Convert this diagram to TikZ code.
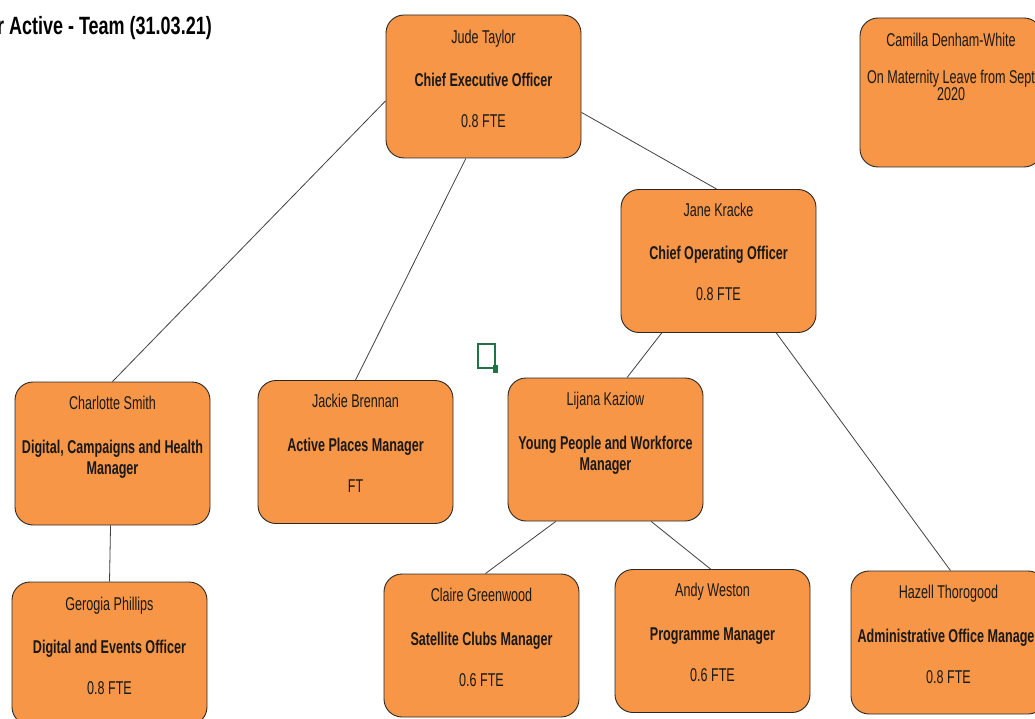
\documentclass[tikz,border=0pt]{standalone}
\usepackage{fontspec}
\setmainfont{Liberation Sans}[FakeStretch=0.68]
\newfontfamily\titlefont{Liberation Sans}[FakeStretch=0.72]
\usetikzlibrary{calc}
\definecolor{boxfill}{RGB}{247,150,70}
\definecolor{boxline}{RGB}{40,40,40}
\definecolor{xlgreen}{RGB}{33,115,70}
\tikzset{
  staffbox/.style={draw=boxline, line width=0.9pt, fill=boxfill, rounded corners=18pt,
    minimum width=195pt, minimum height=143pt, inner sep=0pt},
  stafftext/.style={font=\fontsize{18.5}{21}\selectfont, align=center, inner sep=0pt,
    anchor=north, text=black!90},
  link/.style={draw=black!75, line width=0.8pt},
}
\begin{document}
\begin{tikzpicture}[x=1pt,y=-1pt]
\useasboundingbox (0,0) rectangle (1035,719);
\clip (0,0) rectangle (1035,719);

\node[font=\titlefont\bfseries\fontsize{25}{28}\selectfont, anchor=base east, inner sep=0pt] (title) at (212,35) {r Active - Team (31.03.21)};

% boxes
\node[staffbox] (jude) at (483.5,86.5) {};
\node[staffbox, minimum width=182pt, minimum height=149pt] (camilla) at (951,92.5) {};
\node[staffbox] (jane) at (718.5,261) {};
\node[staffbox] (charlotte) at (112.5,453.5) {};
\node[staffbox] (jackie) at (355.5,452) {};
\node[staffbox] (lijana) at (605.5,449.5) {};
\node[staffbox] (gerogia) at (109.5,653.5) {};
\node[staffbox] (claire) at (481.5,645.5) {};
\node[staffbox] (andy) at (712.5,641) {};
\node[staffbox] (hazell) at (948.5,642.5) {};

% texts
\node[stafftext] (judet) at ([yshift=-15pt]jude.north) {Jude Taylor\\[22pt]\textbf{Chief Executive Officer}\\[20pt]0.8 FTE};
\node[stafftext, font=\fontsize{18.5}{17}\selectfont] (camillat) at ([yshift=-15pt]camilla.north) {Camilla Denham-White\\[20pt]On Maternity Leave from Sept\\2020};
\node[stafftext] (janet) at ([yshift=-14pt]jane.north) {Jane Kracke\\[22pt]\textbf{Chief Operating Officer}\\[20pt]0.8 FTE};
\node[stafftext] (charlottet) at ([yshift=-14pt]charlotte.north) {Charlotte Smith\\[23pt]\textbf{Digital, Campaigns and Health}\\\textbf{Manager}};
\node[stafftext] (jackiet) at ([yshift=-14pt]jackie.north) {Jackie Brennan\\[23pt]\textbf{Active Places Manager}\\[20pt]FT};
\node[stafftext] (lijanat) at ([yshift=-14pt]lijana.north) {Lijana Kaziow\\[23pt]\textbf{Young People and Workforce}\\\textbf{Manager}};
\node[stafftext] (gerogiat) at ([yshift=-15pt]gerogia.north) {Gerogia Phillips\\[22pt]\textbf{Digital and Events Officer}\\[20pt]0.8 FTE};
\node[stafftext] (clairet) at ([yshift=-14pt]claire.north) {Claire Greenwood\\[23pt]\textbf{Satellite Clubs Manager}\\[20pt]0.6 FTE};
\node[stafftext] (andyt) at ([yshift=-14pt]andy.north) {Andy Weston\\[23pt]\textbf{Programme Manager}\\[20pt]0.6 FTE};
\node[stafftext] (hazellt) at ([yshift=-14pt]hazell.north) {Hazell Thorogood\\[23pt]\textbf{Administrative Office Manager}\\[20pt]0.8 FTE};

% connectors
\draw[link] ($(jude.north west)!0.6!(jude.south west)$) -- (charlotte.north);
\draw[link] ($(jude.south west)!0.41!(jude.south east)$) -- (jackie.north);
\draw[link] ($(jude.north east)!0.68!(jude.south east)$) -- ($(jane.north west)!0.49!(jane.north east)$);
\draw[link] ($(jane.south west)!0.21!(jane.south east)$) -- ($(lijana.north west)!0.61!(lijana.north east)$);
\draw[link] ($(jane.south west)!0.795!(jane.south east)$) -- ($(hazell.north west)!0.51!(hazell.north east)$);
\draw[link] ($(charlotte.south west)!0.49!(charlotte.south east)$) -- (gerogia.north);
\draw[link] ($(lijana.south west)!0.246!(lijana.south east)$) -- ($(claire.north west)!0.52!(claire.north east)$);
\draw[link] ($(lijana.south west)!0.733!(lijana.south east)$) -- ($(andy.north west)!0.49!(andy.north east)$);

% green marker icon
\draw[xlgreen, line width=2pt] (478,344) rectangle (495,368);
\fill[xlgreen] (493,365) rectangle (498,373);
\end{tikzpicture}
\end{document}
